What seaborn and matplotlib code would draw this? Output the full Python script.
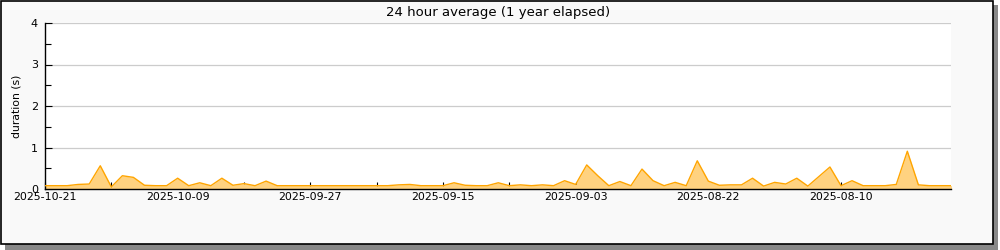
import matplotlib
matplotlib.use("Agg")
import matplotlib.pyplot as plt
from matplotlib.patches import Rectangle
import numpy as np
import pandas as pd
import seaborn as sns

# ---- data ----
start_date = "2025-10-21"
durations = [
    0.08, 0.08, 0.08, 0.11, 0.12, 0.56, 0.05, 0.32, 0.28, 0.09,
    0.08, 0.08, 0.26, 0.08, 0.15, 0.08, 0.26, 0.09, 0.13, 0.08,
    0.19, 0.08, 0.08, 0.08, 0.08, 0.08, 0.08, 0.08, 0.08, 0.08,
    0.08, 0.08, 0.10, 0.11, 0.08, 0.08, 0.08, 0.15, 0.09, 0.08,
    0.08, 0.15, 0.08, 0.10, 0.08, 0.10, 0.08, 0.20, 0.11, 0.58,
    0.32, 0.08, 0.18, 0.08, 0.48, 0.20, 0.08, 0.16, 0.08, 0.68,
    0.19, 0.09, 0.10, 0.10, 0.26, 0.07, 0.16, 0.12, 0.26, 0.07,
    0.30, 0.53, 0.08, 0.20, 0.08, 0.08, 0.08, 0.11, 0.91, 0.10,
    0.08, 0.08, 0.08,
]
tick_labels = ["2025-10-21", "2025-10-09", "2025-09-27", "2025-09-15",
               "2025-09-03", "2025-08-22", "2025-08-10"]
title = "24 hour average (1 year elapsed)"
ylabel = "duration (s)"

dates = pd.date_range(end=pd.Timestamp(start_date), periods=len(durations), freq="D")[::-1]
df = pd.DataFrame({"date": dates, "duration": durations})

plt.rcParams["font.family"] = ["DejaVu Sans"]
plt.rcParams["font.size"] = 8

fig = plt.figure(figsize=(10, 2.5), dpi=100)
fig.patch.set_facecolor("white")

# outer box with shadow
fig.add_artist(Rectangle((5 / 1000, 0 / 250), 993 / 1000, 245 / 250,
                         transform=fig.transFigure, facecolor="#888888",
                         edgecolor="none", zorder=-3))
fig.add_artist(Rectangle((1 / 1000, 6 / 250), 992 / 1000, 243 / 250,
                         transform=fig.transFigure, facecolor="#f9f9f9",
                         edgecolor="black", linewidth=1.2, zorder=-2))

ax = fig.add_axes([45 / 1000, 1 - 189 / 250, 906 / 1000, 166 / 250])
ax.set_zorder(1)
ax.set_facecolor("white")

ax.fill_between(df["date"], 0, df["duration"], color="#ffd280", linewidth=0, zorder=2)
sns.lineplot(data=df, x="date", y="duration", ax=ax, color="#ffa500",
             linewidth=1.0, zorder=3)

ax.set_ylim(0, 4)
x0 = pd.Timestamp(start_date)
ax.set_xlim(x0, x0 - pd.Timedelta(days=81.95))

ax.set_yticks([0, 1, 2, 3, 4])
ax.set_yticks(np.arange(0.5, 4, 1.0), minor=True)
major_dates = pd.to_datetime(tick_labels)
ax.set_xticks(major_dates)
ax.set_xticklabels(tick_labels)
minor_dates = major_dates - pd.Timedelta(days=6)
ax.set_xticks(minor_dates, minor=True)

ax.grid(axis="y", which="major", color="#cccccc", linewidth=0.9, zorder=1)
ax.set_axisbelow(True)
ax.tick_params(axis="both", which="both", direction="in", color="black",
               width=0.8)
ax.tick_params(axis="y", which="major", length=5, pad=5, labelsize=8)
ax.tick_params(axis="y", which="minor", length=4)
ax.tick_params(axis="x", which="both", length=5, pad=2, labelsize=7.9)

for s in ["top", "right"]:
    ax.spines[s].set_visible(False)
for s in ["left", "bottom"]:
    ax.spines[s].set_color("black")
    ax.spines[s].set_linewidth(1.0)

ax.set_xlabel("")
ax.set_ylabel(ylabel, fontsize=7.8, labelpad=7)
ax.set_title(title, fontsize=9.5, pad=5)

fig.savefig("out.png", dpi=100)
